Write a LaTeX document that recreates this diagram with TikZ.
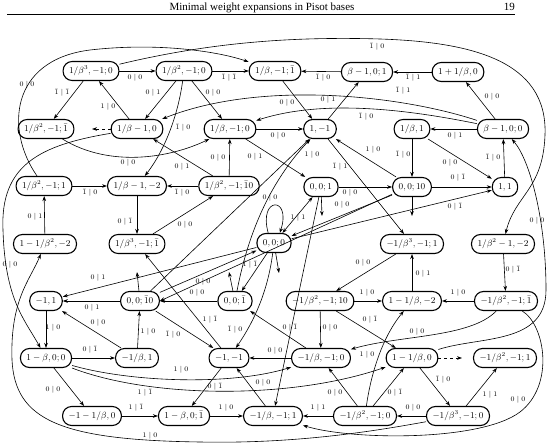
\documentclass[tikz,border=0pt]{standalone}
\usepackage{amsmath,amssymb}
\usepackage{fontspec}
\usetikzlibrary{arrows.meta}
\newfontfamily\headfont{Liberation Serif}
\newcommand{\mone}{\bar{1}}
\tikzset{
  box/.style={draw, line width=1.1pt, rounded corners=9pt, minimum height=19pt, inner xsep=6pt, inner ysep=2pt, font=\small},
  arr/.style={->, line width=0.6pt},
  arrb/.style={<->, line width=0.6pt},
  dsh/.style={arr, dashed},
  lab/.style={font=\scriptsize, inner sep=1pt},
  head/.style={font=\headfont\fontsize{11}{13}\selectfont, inner sep=0pt}
}

\begin{document}
\begin{tikzpicture}[x=1pt,y=-1pt,>={Stealth[length=5pt,width=3.6pt]}]
  \useasboundingbox (0,0) rectangle (549,443);
  % running head
  \node[head,anchor=base] (title) at (262,10.5) {Minimal weight expansions in Pisot bases};
  \node[head,anchor=base east] (page) at (515,10.5) {19};
  \draw[line width=0.5pt] (7,14) -- (515,14);

  % states
  \node[box] (a1) at (91,71)  {$1/\beta^{3}, -1; 0$};
  \node[box] (a2) at (184,71) {$1/\beta^{2}, -1; 0$};
  \node[box] (a3) at (275,71) {$1/\beta, -1; \mone$};
  \node[box] (a4) at (367,72) {$\beta - 1, 0; 1$};
  \node[box] (a5) at (458,72) {$1 + 1/\beta, 0$};
  \node[box] (b1) at (46,129)  {$1/\beta^{2}, -1; \mone$};
  \node[box] (b2) at (137,129) {$1/\beta - 1, 0$};
  \node[box] (b3) at (230,129) {$1/\beta, -1; 0$};
  \node[box] (b4) at (320,129) {$1, -1$};
  \node[box] (b5) at (412,129) {$1/\beta, 1$};
  \node[box] (b6) at (503,129) {$\beta - 1, 0; 0$};
  \node[box] (c1) at (44,186)  {$1/\beta^{2}, -1; 1$};
  \node[box] (c2) at (137,186) {$1/\beta - 1, -2$};
  \node[box] (c3) at (229,186) {$1/\beta^{2}, -1; \mone 0$};
  \node[box] (c4) at (321,187) {$0, 0; 1$};
  \node[box] (c5) at (412,187) {$0, 0; 10$};
  \node[box] (c6) at (505,187) {$1, 1$};
  \node[box] (d1) at (45,244)  {$1 - 1/\beta^{2}, -2$};
  \node[box] (d2) at (137,244) {$1/\beta^{3}, -1; \mone$};
  \node[box] (d3) at (274,243) {$0, 0; 0$};
  \node[box] (d4) at (412,244) {$-1/\beta^{3}, -1; 1$};
  \node[box] (d5) at (503,244) {$1/\beta^{2} - 1, -2$};
  \node[box] (e1) at (46,301)  {$-1, 1$};
  \node[box] (e2) at (140,301) {$0, 0; \mone 0$};
  \node[box] (e3) at (235,301) {$0, 0; \mone$};
  \node[box] (e4) at (320,301) {$-1/\beta^{2}, -1; 10$};
  \node[box] (e5) at (412,301) {$1 - 1/\beta, -2$};
  \node[box] (e6) at (506,301) {$-1/\beta^{2}, -1; \mone$};
  \node[box] (f1) at (46,358)  {$1 - \beta, 0; 0$};
  \node[box] (f2) at (137,358) {$-1/\beta, 1$};
  \node[box] (f3) at (229,358) {$-1, -1$};
  \node[box] (f4) at (321,358) {$-1/\beta, -1; 0$};
  \node[box] (f5) at (412,358) {$1 - 1/\beta, 0$};
  \node[box] (f6) at (505,358) {$-1/\beta^{2}, -1; 1$};
  \node[box] (g1) at (92,416)  {$-1 - 1/\beta, 0$};
  \node[box] (g2) at (184,416) {$1 - \beta, 0; \mone$};
  \node[box] (g3) at (273,416) {$-1/\beta, -1; 1$};
  \node[box] (g4) at (365,416) {$-1/\beta^{2}, -1; 0$};
  \node[box] (g5) at (458,416) {$-1/\beta^{3}, -1; 0$};

  % loose ends
  \coordinate (b2d) at (92,129);
  \coordinate (f5d) at (462,358);
  \coordinate (c4s) at (322,216);
  \coordinate (c5s) at (412,216);
  \coordinate (d3s) at (279,273);
  \coordinate (e2s) at (137,272);
  \coordinate (e3s) at (229,272);

  % top rows
  \draw[arr] (a1) -- (a2);
  \draw[arr] (a2) -- (a3);
  \draw[arr] (a4) -- (a3);
  \draw[arr] (a5) -- (a4);
  \draw[arr] (a1) -- (b1);
  \draw[arr] (b2) -- (a1);
  \draw[arr] (a2) -- (b2);
  \draw[arr] (a2) -- (b3);
  \draw[arr] (a2) .. controls (178,115) and (165,150) .. (c2);
  \draw[dsh] (b2) -- (b2d);
  \draw[arr] (b1) .. controls (110,168) and (170,158) .. (b3);
  \draw[arr] (b6) .. controls (400,95) and (260,80) .. (b2);
  \draw[arr] (b6) .. controls (400,108) and (320,100) .. (b3);
  \draw[arr] (b3) -- (b4);
  \draw[arr] (a3) -- (b4);
  \draw[arr] (b4) -- (a4);
  \draw[arr] (b6) -- (a5);
  \draw[arr] (b6) -- (b5);
  \draw[arr] (b5) -- (c5);
  \draw[arr] (b5) -- (c6);
  \draw[arr] (c5) -- (c6);
  \draw[arr] (c6) -- (b6);
  \draw[arr] (c5) -- (b4);
  \draw[arr] (b4) -- (d4);
  \draw[arr] (b3) -- (c4);
  \draw[arr] (c3) -- (b3);
  \draw[arr] (c3) -- (b2);
  \draw[arr] (c1) -- (c2);
  \draw[arr] (c3) -- (c2);
  \draw[arr] (d1) -- (c1);
  \draw[arr] (c2) -- (d2);
  \draw[arr] (d2) -- (c3);

  % around 0,0;0
  \draw[arr] (d3) -- (c6);
  \draw[arr] (c5) -- (d3);
  \draw[arr] (c4) -- (c5);
  \draw[arrb] (d3) -- (c4);
  \draw[arr] (d3.120) .. controls (258,196) and (292,196) .. (d3.60);
  \draw[arr] (d3) -- (e3);
  \draw[arr] (d3) .. controls (268,290) and (255,320) .. (f3);
  \draw[arr] (e2) -- (d3);
  \draw[arr] (d3) -- (e1);
  \draw[arr] (c5.200) -- (e2.east);
  \draw[arr] (c4) -- (g3);
  \draw[arr] (e3) .. controls (245,250) and (262,190) .. (b4);
  \draw[arr] (e2) -- (b4);
  \draw[arr] (c4) -- (c4s);
  \draw[arr] (c5) -- (c5s);
  \draw[arr] (d3) -- (d3s);
  \draw[arr] (e2) -- (e2s);
  \draw[arr] (e3) -- (e3s);

  % long arcs
  \draw[arr] (c1) .. controls (5,130) and (10,60) .. (90,50) .. controls (160,42) and (220,52) .. (a3);
  \draw[arr] (a1) .. controls (200,45) and (280,36) .. (380,39) .. controls (470,42) and (548,60) .. (545,135) .. controls (543,190) and (515,195) .. (d5);
  \draw[arr] (b2) .. controls (40,145) and (0,165) .. (3,230) .. controls (5,300) and (25,320) .. (f1);
  \draw[arr] (g5) .. controls (380,430) and (300,444) .. (200,442) .. controls (60,440) and (15,420) .. (12,360) .. controls (10,300) and (30,280) .. (d1);
  \draw[arr] (e6) .. controls (545,325) and (555,385) .. (520,412) .. controls (480,442) and (350,440) .. (g3);
  \draw[arr] (e6) .. controls (470,338) and (400,335) .. (f4);
  \draw[arr] (f5) .. controls (480,336) and (546,345) .. (546,290) .. controls (546,220) and (530,160) .. (b6);

  % lower rows
  \draw[arr] (d5) -- (e6);
  \draw[arr] (e6) -- (e5);
  \draw[arr] (e4) -- (e5);
  \draw[arr] (e5) -- (d4);
  \draw[arr] (d4) -- (e4);
  \draw[arr] (e4) -- (f4);
  \draw[arr] (e4) -- (f5);
  \draw[arr] (g4) .. controls (370,380) and (380,340) .. (e5);
  \draw[arr] (g4) -- (f4);
  \draw[arr] (g4) -- (f5);
  \draw[arr] (g4) -- (g3);
  \draw[arr] (g5) -- (g4);
  \draw[arr] (g5) -- (f6);
  \draw[arr] (f5) -- (g5);
  \draw[dsh] (f5) -- (f5d);
  \draw[arr] (f4) -- (f3);
  \draw[arr] (g3) -- (f3);
  \draw[arr] (f3) -- (g2);
  \draw[arr] (g1) -- (g2);
  \draw[arr] (g2) -- (g3);
  \draw[arr] (f1) -- (g1);
  \draw[arr] (f1) -- (f2);
  \draw[arr] (f1) .. controls (130,382) and (230,386) .. (f4);
  \draw[arr] (f1) .. controls (150,398) and (290,400) .. (f5);
  \draw[arr] (e1) -- (f1);
  \draw[arr] (f2) -- (e2);
  \draw[arr] (f2) -- (e1);
  \draw[arr] (e2) -- (e1);
  \draw[arr] (e3) -- (e2);
  \draw[arr] (e2) -- (f3);
  \draw[arr] (f3) -- (d2);
  \draw[arr] (f4) -- (e3);

  % labels
  \node[lab] (t01) at (135,78) {$0\mid 0$};
  \node[lab] (t02) at (229,78) {$\mone\mid\mone$};
  \node[lab] (t03) at (323,78) {$\mone\mid 0$};
  \node[lab] (t04) at (413,78) {$\mone\mid 1$};
  \node[lab] (t05) at (62,93) {$\mone\mid\mone$};
  \node[lab] (t06) at (108,107) {$1\mid 0$};
  \node[lab] (t07) at (153,93) {$0\mid 1$};
  \node[lab] (t08) at (213,93) {$0\mid 0$};
  \node[lab] (t09) at (183,128) {$\mone\mid 0$};
  \node[lab] (t10) at (128,163) {$0\mid 0$};
  \node[lab] (t11) at (403,91) {$\mone\mid 1$};
  \node[lab] (t12) at (366,117) {$\mone\mid 0$};
  \node[lab] (t13) at (278,136) {$0\mid 0$};
  \node[lab] (t14) at (287,103) {$0\mid 0$};
  \node[lab] (t15) at (328,100) {$0\mid 1$};
  \node[lab] (t16) at (492,97) {$0\mid 0$};
  \node[lab] (t17) at (455,136) {$0\mid 1$};
  \node[lab] (t18) at (403,155) {$\mone\mid 0$};
  \node[lab] (t19) at (450,163) {$0\mid 0$};
  \node[lab] (t20) at (458,178) {$0\mid\mone$};
  \node[lab] (t21) at (493,158) {$\mone\mid 0$};
  \node[lab] (t22) at (455,207) {$0\mid\mone$};
  \node[lab] (t23) at (342,205) {$0\mid 0$};
  \node[lab] (t24) at (350,193) {$0\mid 0$};
  \node[lab] (t25) at (298,218) {$1\mid 1$};
  \node[lab] (t26) at (270,198) {$0\mid 0$};
  \node[lab] (t27) at (255,157) {$0\mid 1$};
  \node[lab] (t28) at (218,158) {$0\mid 0$};
  \node[lab] (t29) at (182,167) {$0\mid 1$};
  \node[lab] (t30) at (90,193) {$\mone\mid 0$};
  \node[lab] (t31) at (182,193) {$\mone\mid 0$};
  \node[lab] (t32) at (35,217) {$0\mid 1$};
  \node[lab] (t33) at (125,222) {$0\mid\mone$};
  \node[lab] (t34) at (185,225) {$0\mid 0$};
  \node[lab] (t35) at (27,85) {$0\mid 0$};
  \node[lab] (t36) at (377,47) {$\mone\mid 0$};
  \node[lab] (t37) at (10,265) {$0\mid 0$};
  \node[lab] (t38) at (150,436) {$1\mid 0$};
  \node[lab] (t39) at (518,400) {$0\mid 0$};
  \node[lab] (t40) at (417,332) {$0\mid 0$};
  \node[lab] (t41) at (537,221) {$0\mid 0$};
  \node[lab] (t42) at (513,270) {$0\mid\mone$};
  \node[lab] (t43) at (458,293) {$1\mid 0$};
  \node[lab] (t44) at (367,293) {$1\mid 0$};
  \node[lab] (t45) at (423,274) {$0\mid 1$};
  \node[lab] (t46) at (363,263) {$0\mid 0$};
  \node[lab] (t47) at (330,328) {$0\mid 0$};
  \node[lab] (t48) at (370,320) {$0\mid\mone$};
  \node[lab] (t49) at (290,328) {$0\mid\mone$};
  \node[lab] (t50) at (367,355) {$1\mid 0$};
  \node[lab] (t51) at (335,393) {$0\mid 0$};
  \node[lab] (t52) at (395,393) {$0\mid\mone$};
  \node[lab] (t53) at (318,408) {$1\mid 1$};
  \node[lab] (t54) at (413,408) {$0\mid 0$};
  \node[lab] (t55) at (490,395) {$1\mid 1$};
  \node[lab] (t56) at (443,380) {$\mone\mid 0$};
  \node[lab] (t57) at (275,351) {$0\mid 0$};
  \node[lab] (t58) at (263,383) {$0\mid 0$};
  \node[lab] (t59) at (215,387) {$0\mid\mone$};
  \node[lab] (t60) at (136,408) {$1\mid\mone$};
  \node[lab] (t61) at (226,408) {$1\mid 0$};
  \node[lab] (t62) at (53,390) {$0\mid 0$};
  \node[lab] (t63) at (90,350) {$0\mid\mone$};
  \node[lab] (t64) at (181,370) {$1\mid 0$};
  \node[lab] (t65) at (145,393) {$1\mid\mone$};
  \node[lab] (t66) at (53,328) {$1\mid 0$};
  \node[lab] (t67) at (148,332) {$1\mid 0$};
  \node[lab] (t68) at (98,323) {$0\mid 0$};
  \node[lab] (t69) at (92,308) {$0\mid 1$};
  \node[lab] (t70) at (197,293) {$0\mid 0$};
  \node[lab] (t71) at (173,335) {$\mone\mid 0$};
  \node[lab] (t72) at (210,320) {$1\mid\mone$};
  \node[lab] (t73) at (250,265) {$\mone\mid\mone$};
  \node[lab] (t74) at (235,330) {$\mone\mid 0$};
  \node[lab] (t75) at (203,282) {$0\mid 0$};
  \node[lab] (t76) at (98,278) {$0\mid 1$};
  \node[lab] (t77) at (373,150) {$1\mid 0$};
  \node[lab] (t78) at (340,167) {$\mone\mid 1$};
  \node[lab] (t79) at (312,155) {$1\mid 0$};
\end{tikzpicture}
\end{document}
